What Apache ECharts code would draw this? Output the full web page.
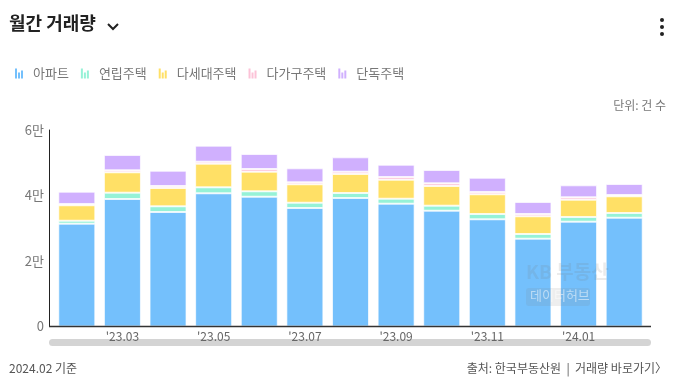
<!DOCTYPE html>
<html><head><meta charset="utf-8">
<script src="https://cdn.jsdelivr.net/npm/echarts@6/dist/echarts.min.js"></script>
<style>html,body{margin:0;padding:0;background:#fff}#c{width:678px;height:384px}</style>
</head><body><div id="c"></div>
<script>
const categories = ["'23.02","'23.03","'23.04","'23.05","'23.06","'23.07","'23.08","'23.09","'23.10","'23.11","'23.12","'24.01","'24.02"];
const apt      = [31390,38930,34960,40670,39630,36180,39240,37500,35360,32730,26810,32000,33220];
const rowHouse = [910,1930,1740,1830,1650,1620,1520,1520,1530,1620,1430,1440,1440];
const multiHH  = [4710,6220,5590,7210,5990,5620,5800,5800,6010,6020,5410,5280,5090];
const multiFam = [400,610,610,610,820,610,710,830,820,700,700,730,400];
const detached = [3760,4680,4670,4890,4580,4270,4390,3750,4070,4360,3670,3660,3360];
const seriesNames = ['아파트','연립주택','다세대주택','다가구주택','단독주택'];
const yTicks = [0,20000,40000,60000];

const colors = ['#74C0FC','#96F2D7','#FFE066','#FCC2D7','#D0B0FE'];
const FONT = '"Noto Sans CJK KR","Noto Sans",sans-serif';
const icon = 'path://M0,2H2V12H0Z M3,6H5V12H3Z M6,4H8V12H6Z';
const dataSets = [apt,rowHouse,multiHH,multiFam,detached];

const chart = echarts.init(document.getElementById('c'));
chart.setOption({
  animation:false,
  textStyle:{fontFamily:FONT},
  color:colors,
  legend:{
    left:10, top:62, itemWidth:8, itemHeight:12, itemGap:12,
    icon:icon,
    itemStyle:{borderWidth:0},
    textStyle:{color:'#777',fontSize:13,fontFamily:FONT,padding:[0,0,0,5]},
    data:seriesNames
  },
  grid:{left:54,right:31,top:130,bottom:57.5},
  xAxis:{
    type:'category', data:categories,
    axisLine:{show:false}, axisTick:{show:false},
    axisLabel:{interval:(i)=>i%2===1, color:'#666', fontSize:12, margin:4, fontFamily:FONT}
  },
  yAxis:{
    type:'value', min:yTicks[0], max:yTicks[yTicks.length-1], interval:20000, offset:5,
    axisLine:{show:true,lineStyle:{color:'#222',width:1}},
    axisTick:{show:false}, splitLine:{show:false},
    axisLabel:{color:'#777',fontSize:13,margin:5,fontFamily:FONT,
      formatter:(v)=> v===0?'0':(v/10000)+'만'}
  },
  series: seriesNames.map((n,i)=>({
    name:n, type:'bar', stack:'total', data:dataSets[i], barWidth:37,
    itemStyle:{color:colors[i], borderColor:'rgba(255,255,255,0.7)', borderWidth:1}
  })),
  graphic:[
    {type:'text', left:9, top:14, style:{text:'월간 거래량', fill:'#222', font:'bold 18px '+FONT}},
    {type:'polyline', shape:{points:[[108,24],[113,29],[118,24]]}, style:{stroke:'#222',lineWidth:2,fill:null}},
    {type:'circle', shape:{cx:662,cy:20,r:2}, style:{fill:'#222'}},
    {type:'circle', shape:{cx:662,cy:27,r:2}, style:{fill:'#222'}},
    {type:'circle', shape:{cx:662,cy:34,r:2}, style:{fill:'#222'}},
    {type:'text', right:12, top:99, style:{text:'단위: 건 수', fill:'#777', font:'12px '+FONT}},
    {type:'line', shape:{x1:49,y1:326.5,x2:651,y2:326.5}, style:{stroke:'#333',lineWidth:1.5}, z:10},
    {type:'rect', shape:{x:49,y:339,width:602,height:7,r:3.5}, style:{fill:'#d4d4d4'}},
    {type:'text', left:526, top:262, z:20, style:{text:'KB 부동산', fill:'rgba(120,120,120,0.15)', font:'bold 19px '+FONT}},
    {type:'rect', shape:{x:526,y:288,width:64,height:18,r:3}, style:{fill:'rgba(120,120,120,0.13)'}, z:20},
    {type:'text', left:530, top:289, z:21, style:{text:'데이터허브', fill:'rgba(255,255,255,0.5)', font:'13px '+FONT}},
    {type:'text', left:9, top:362, style:{text:'2024.02 기준', fill:'#555', font:'12px '+FONT}},
    {type:'text', right:11, top:362, style:{text:'출처: 한국부동산원  |  거래량 바로가기〉', fill:'#555', font:'12px '+FONT}}
  ]
});
</script></body></html>
